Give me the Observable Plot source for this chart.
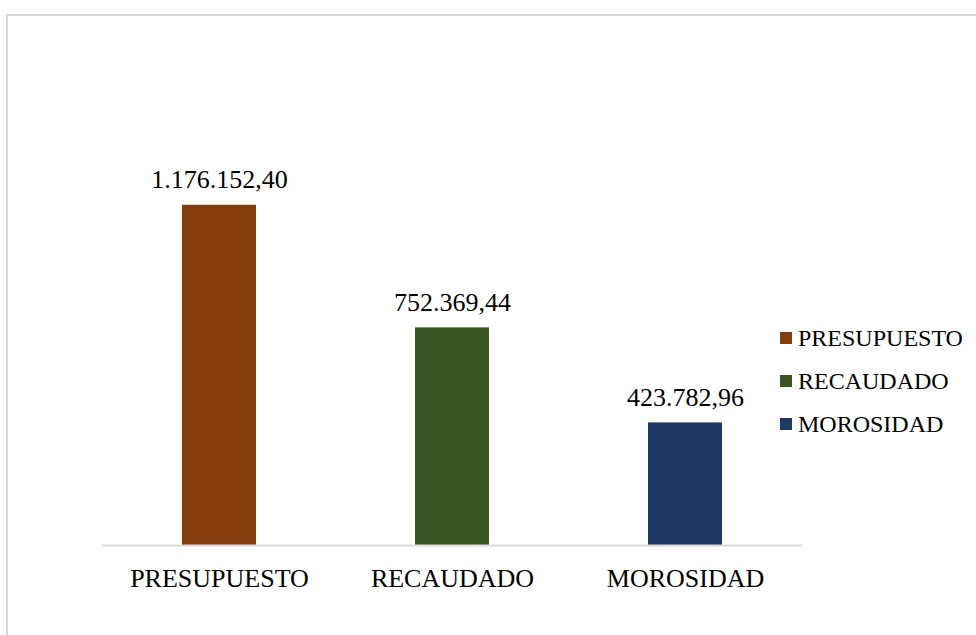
<!DOCTYPE html>
<html>
<head>
<meta charset="utf-8">
<script src="https://cdn.jsdelivr.net/npm/d3@7"></script>
<script src="https://cdn.jsdelivr.net/npm/@observablehq/plot@0.6"></script>
<style>
  html, body { margin: 0; padding: 0; background: #fff; }
  #wrap { position: relative; width: 976px; height: 635px; overflow: hidden; font-family: "Liberation Serif", "Times New Roman", serif; }
  #frame { position: absolute; left: 6px; top: 14px; width: 1100px; height: 800px; border: 2px solid #d9d9d9; box-sizing: border-box; }
  #chart { position: absolute; left: 0; top: 0; }
  #legend { position: absolute; left: 780px; top: 0; }
  .item { position: absolute; left: 0; display: flex; align-items: center; white-space: nowrap; font-size: 24px; color: #000; line-height: 1; }
  .sw { width: 12px; height: 12px; margin-right: 6px; flex: none; }
</style>
</head>
<body>
<div id="wrap">
  <div id="frame"></div>
  <div id="chart"></div>
  <div id="legend"></div>
</div>
<script>
const categories = ["PRESUPUESTO", "RECAUDADO", "MOROSIDAD"];
const values = [1176152.40, 752369.44, 423782.96];
const labels = ["1.176.152,40", "752.369,44", "423.782,96"];
const colors = ["#843C0C", "#375623", "#203864"];

const data = categories.map((c, i) => ({ cat: c, value: values[i], label: labels[i] }));

const chart = Plot.plot({
  width: 976,
  height: 635,
  marginLeft: 102,
  marginRight: 174,
  marginTop: 140,
  marginBottom: 90,
  style: { fontFamily: "'Liberation Serif', 'Times New Roman', serif", background: "transparent", color: "#000" },
  x: { domain: categories, paddingInner: 0.683, paddingOuter: 0.3415, label: null },
  y: { domain: [0, 1400000], axis: null },
  color: { domain: categories, range: colors },
  marks: [
    Plot.barY(data, { x: "cat", y: "value", fill: "cat" }),
    Plot.ruleY([0], { stroke: "#d9d9d9", strokeWidth: 2 }),
    Plot.text(data, { x: "cat", y: "value", text: "label", lineAnchor: "bottom", dy: -17, fontSize: 26, fill: "#000" }),
    Plot.axisX({ tickSize: 0, tickPadding: 23, fontSize: 26, label: null, fill: "#000" })
  ]
});
document.getElementById("chart").appendChild(chart);

const legend = document.getElementById("legend");
const rowY = [338, 381, 424];
categories.forEach((c, i) => {
  const item = document.createElement("div");
  item.className = "item";
  item.style.top = (rowY[i] - 12) + "px";
  item.style.height = "24px";
  const sw = document.createElement("span");
  sw.className = "sw";
  sw.style.background = colors[i];
  const t = document.createElement("span");
  t.textContent = c;
  item.appendChild(sw);
  item.appendChild(t);
  legend.appendChild(item);
});
</script>
</body>
</html>
